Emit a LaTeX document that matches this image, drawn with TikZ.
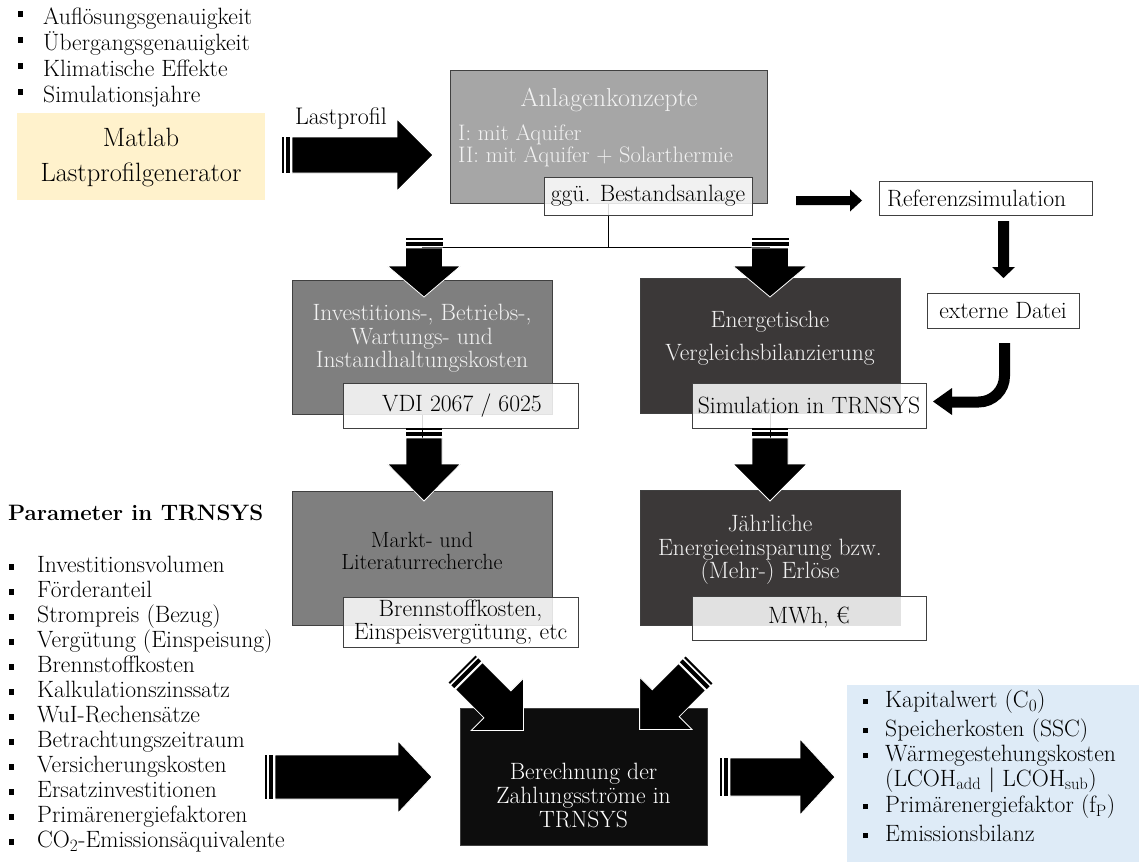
\documentclass[tikz,border=0pt]{standalone}
\usepackage{fontspec}
\usetikzlibrary{backgrounds}

\definecolor{matlabY}{HTML}{FFF2CC}
\definecolor{anlG}{HTML}{A6A6A6}
\definecolor{midG}{HTML}{7F7F7F}
\definecolor{darkG}{HTML}{3B3838}
\definecolor{nearBlack}{HTML}{0D0D0D}
\definecolor{outBlue}{HTML}{DEEBF7}
\definecolor{edge}{HTML}{404040}
\definecolor{paleTxt}{HTML}{F2F2F2}

% square bullet hung to the left of a list entry: raise, gap to text
\newcommand{\sqbul}[2]{\llap{\rule[#1]{5pt}{5.5pt}\hspace{#2}}}

\tikzset{
  % striped block arrow along +x: length / shaft half width / head half width / head length
  pics/sarrow/.style args={#1/#2/#3/#4}{code={
    \fill[black] (0,-#2) rectangle (2,#2);
    \fill[black] (4,-#2) rectangle (8,#2);
    \filldraw[fill=black,draw=white,line width=0.8pt]
      (10,-#2) -- ({#1-#4},-#2) -- ({#1-#4},-#3) -- (#1,0)
      -- ({#1-#4},#3) -- ({#1-#4},#2) -- (10,#2) -- cycle;
  }},
  % plain block arrow along +x
  pics/parrow/.style args={#1/#2/#3/#4}{code={
    \fill[black]
      (0,-#2) -- ({#1-#4},-#2) -- ({#1-#4},-#3) -- (#1,0)
      -- ({#1-#4},#3) -- ({#1-#4},#2) -- (0,#2) -- cycle;
  }},
}

\begin{document}
\begin{tikzpicture}[x=1pt,y=-1pt,
  every node/.style={font=\fontsize{23.6}{23.5}\selectfont},
  blk/.style={draw=edge, line width=0.8pt, inner sep=0pt},
  wbox/.style={draw=edge, line width=0.8pt, fill=white, fill opacity=0.85,
               text opacity=1, inner sep=0pt, align=center},
  txt/.style={align=center, inner sep=0pt},
  lst/.style={anchor=west, inner sep=0pt, text height=16pt, text depth=5pt},
]
\useasboundingbox (0,0) rectangle (1139,862);

% ---------- top left: generator inputs ----------
\node[lst] (a1) at (43,19) {\sqbul{8pt}{20.5pt}Auflösungsgenauigkeit};
\node[lst] (a2) at (43,45) {\sqbul{8pt}{20.5pt}Übergangsgenauigkeit};
\node[lst] (a3) at (43,71) {\sqbul{8pt}{20.5pt}Klimatische Effekte};
\node[lst] (a4) at (43,97) {\sqbul{8pt}{20.5pt}Simulationsjahre};

\node[fill=matlabY, minimum width=248pt, minimum height=87pt, inner sep=0pt] (matlab) at (141,156.5) {};
\node[txt, font=\fontsize{26.5}{26}\selectfont] (matlabT) at (141,157.5) {Matlab\\[9pt]Lastprofilgenerator};

\node[txt, font=\fontsize{24}{24}\selectfont] (lastp) at (341,118) {Lastprofil};

% ---------- concept box ----------
\node[blk, fill=anlG, minimum width=317pt, minimum height=133pt] (anl) at (608.5,136.5) {};
\node[txt, text=paleTxt, font=\fontsize{26}{28}\selectfont] (anlT) at (609,100) {Anlagenkonzepte};
\node[txt, text=paleTxt, anchor=west, align=left, font=\fontsize{22.4}{21.5}\selectfont] (anlV) at (458,146)
  {I: mit Aquifer\\II: mit Aquifer + Solarthermie};
\node[wbox, minimum width=208pt, minimum height=38pt] (ggu) at (648,196) {ggü. Bestandsanlage};

% ---------- reference simulation ----------
\node[blk, minimum width=213pt, minimum height=34pt, text width=197pt, align=left] (ref) at (985.5,198) {Referenzsimulation};
\node[blk, minimum width=152pt, minimum height=35pt] (ext) at (1003,310.5) {externe Datei};

% ---------- second row ----------
\node[blk, fill=midG, minimum width=260pt, minimum height=134pt] (inv) at (422,347) {};
\node[txt, text=paleTxt] (invT) at (422,338.5) {Investitions-, Betriebs-,\\Wartungs- und\\Instandhaltungskosten};
\node[wbox, minimum width=235pt, minimum height=45pt] (vdi) at (460.5,405.5) {\hspace{3pt}VDI 2067 / 6025};

\node[blk, fill=darkG, minimum width=260pt, minimum height=135pt] (energ) at (770,345.5) {};
\node[txt, text=paleTxt] (energT) at (770,338.5) {Energetische\\[9.5pt]Vergleichsbilanzierung};
\node[wbox, minimum width=234pt, minimum height=45pt] (sim) at (809,405.5) {Simulation in TRNSYS};

% ---------- third row ----------
\node[blk, fill=midG, minimum width=260pt, minimum height=134pt] (markt) at (422,558) {};
\node[txt, font=\fontsize{22}{22.5}\selectfont] (marktT) at (422,551) {Markt- und\\Literaturrecherche};
\node[wbox, minimum width=235pt, minimum height=50pt] (brenn) at (460.5,622) {Brennstoffkosten,\\Einspeisvergütung, etc};

\node[blk, fill=darkG, minimum width=260pt, minimum height=135pt] (jahr) at (770,557.5) {};
\node[txt, text=paleTxt] (jahrT) at (770,550) {Jährliche\\Energieeinsparung bzw.\\(Mehr-) Erlöse};
\node[wbox, minimum width=234pt, minimum height=44pt] (mwh) at (809,618) {MWh, €};

% ---------- calculation ----------
\node[blk, fill=nearBlack, minimum width=247pt, minimum height=137pt] (ber) at (583.5,776.5) {};
\node[txt, text=white, font=\fontsize{23.6}{24}\selectfont] (berT) at (583.5,795.5) {Berechnung der\\Zahlungsströme in\\TRNSYS};

% ---------- parameter list ----------
\node[anchor=west, inner sep=0pt, font=\fontsize{22.3}{24}\selectfont\bfseries] (parH) at (8,513) {Parameter in TRNSYS};
\foreach \t [count=\i from 0] in {Investitionsvolumen, Förderanteil, Strompreis (Bezug),
    Vergütung (Einspeisung), Brennstoffkosten, Kalkulationszinssatz, WuI-Rechensätze,
    Betrachtungszeitraum, Versicherungskosten, Ersatzinvestitionen, Primärenergiefaktoren,
    CO$_2$-Emissionsäquivalente}
  \node[lst] (p\i) at (37,567+25*\i) {\sqbul{3pt}{23.5pt}\t};

% ---------- results ----------
\node[fill=outBlue, minimum width=292pt, minimum height=177pt, inner sep=0pt] (out) at (993,773.5) {};
\node[lst] (o1) at (885,702) {\sqbul{3.5pt}{17pt}Kapitalwert (C$_0$)};
\node[lst] (o2) at (885,731) {\sqbul{3.5pt}{17pt}Speicherkosten (SSC)};
\node[anchor=north west, inner sep=0pt, align=left, font=\fontsize{23.6}{22}\selectfont] (o3) at (885,745)
  {\sqbul{3.5pt}{17pt}Wärmegestehungskosten\\(LCOH$_\mathrm{add}$ $|$ LCOH$_\mathrm{sub}$)};
\node[lst] (o4) at (885,807) {\sqbul{3.5pt}{17pt}Primärenergiefaktor (f$_\mathrm{P}$)};
\node[lst] (o5) at (885,836) {\sqbul{3.5pt}{17pt}Emissionsbilanz};

% ---------- thin connectors behind the boxes ----------
\coordinate (split) at (608.5,247);
\coordinate (jl) at (422,247);
\coordinate (jr) at (770,247);
\begin{scope}[on background layer]
  \draw[line width=0.8pt] (anl.center) -- (split);
  \draw[line width=0.8pt] (jl) -- (jr);
  \draw[line width=0.6pt] (inv.center) -- (markt.center);
  \draw[line width=0.6pt] (energ.center) -- (jahr.center);
\end{scope}

% ---------- block arrows ----------
\pic at (282,155) {sarrow=151/18/36/36};
\pic[rotate=-90] at (424,238) {sarrow=59/18.5/36.5/31};
\pic[rotate=-90] at (770,238) {sarrow=59/18.5/37/31};
\pic[rotate=-90] at (424,428) {sarrow=73/18/36.5/37};
\pic[rotate=-90] at (770,428) {sarrow=73/18/37/37};
\pic[rotate=-45] at (462,669) {sarrow=87/19/37/37};
\pic[rotate=-135] at (699,670) {sarrow=84/19/37/37};
\pic at (265,777) {sarrow=167/22/36/34};
\pic at (720,777) {sarrow=115/19/38/35};
\pic at (796,200.5) {parrow=66/4.5/11/12};
\pic[rotate=-90] at (1003.5,221) {parrow=57/5.5/11.5/11};

% curved arrow from the external file into the simulation
\coordinate (cs) at (1004.5,343);
\draw[line width=11pt] (cs) -- (1004.5,376) arc[start angle=0, end angle=90, radius=26] -- (951,402);
\fill[black] (952,388) -- (933,401.5) -- (952,415) -- cycle;

\end{tikzpicture}
\end{document}
